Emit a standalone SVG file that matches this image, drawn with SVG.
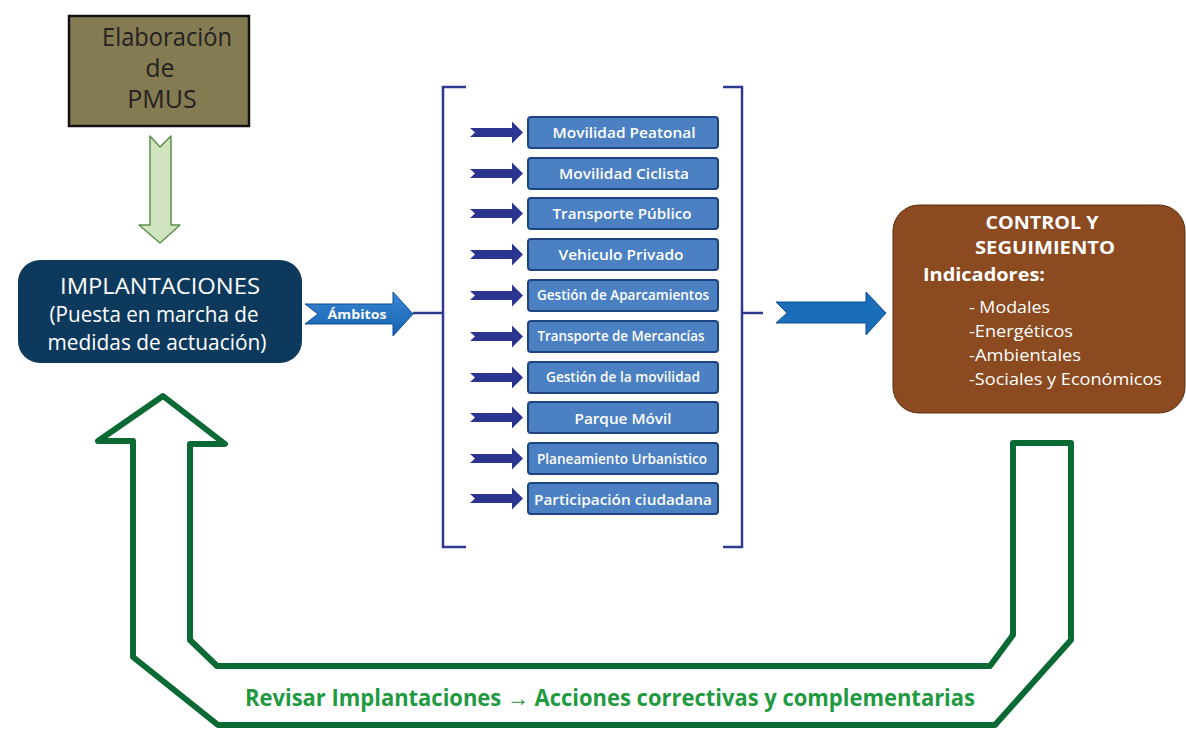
<svg xmlns="http://www.w3.org/2000/svg" width="1186" height="729" viewBox="0 0 1186 729">
<style>
.t{font-family:"Open Sans","Liberation Sans",sans-serif}
.item rect{fill:#4b80c3;stroke:#1f4482;stroke-width:2}
.item text{fill:#fff;font-size:15px;font-weight:600;text-anchor:middle;font-family:"Open Sans","Liberation Sans",sans-serif}
.sa{fill:#2b3590}
.br{fill:none;stroke:#2f3a8e;stroke-width:2.5}
.wt{fill:#fff}
</style>
<defs>
<linearGradient id="bg" x1="0" y1="0" x2="0" y2="1">
<stop offset="0" stop-color="#3b8ad6"/><stop offset="1" stop-color="#135fae"/>
</linearGradient>
<path id="smarr" d="M0,-4.5 L42,-4.5 L42,-11 L53,0 L42,11 L42,4.5 L0,4.5 L5,0 Z"/>
</defs>
<rect width="1186" height="729" fill="#fff"/>

<g id="pmus">
<rect x="69" y="16" width="180" height="110" fill="#857b52" stroke="#111" stroke-width="2.5"/>
<g class="t" font-size="25" fill="#222" text-anchor="middle">
<text x="167" y="46" textLength="130" lengthAdjust="spacingAndGlyphs">Elaboración</text>
<text x="160" y="77">de</text>
<text x="162" y="108">PMUS</text>
</g>
</g>

<g id="implantaciones">
<rect x="18" y="260" width="284" height="103" rx="22" fill="#0d3a5c"/>
<g class="t wt" text-anchor="middle" font-size="21" font-weight="500">
<text x="160" y="294" textLength="200" lengthAdjust="spacingAndGlyphs">IMPLANTACIONES</text>
<text x="154" y="322" textLength="209" lengthAdjust="spacingAndGlyphs">(Puesta en marcha de</text>
<text x="157" y="350" textLength="219" lengthAdjust="spacingAndGlyphs">medidas de actuación)</text>
</g>
</g>

<g id="control">
<rect x="893" y="205" width="292" height="208" rx="26" fill="#8b4a20" stroke="#5a2c10" stroke-width="1"/>
<g class="t wt" font-weight="bold" font-size="18">
<text x="1042" y="229" text-anchor="middle" textLength="113" lengthAdjust="spacingAndGlyphs">CONTROL Y</text>
<text x="1045" y="254" text-anchor="middle" textLength="140" lengthAdjust="spacingAndGlyphs">SEGUIMIENTO</text>
<text x="923" y="281" textLength="122" lengthAdjust="spacingAndGlyphs">Indicadores:</text>
</g>
<g class="t wt" font-size="17" font-weight="500">
<text x="969" y="313" textLength="81" lengthAdjust="spacingAndGlyphs">- Modales</text>
<text x="969" y="337" textLength="104" lengthAdjust="spacingAndGlyphs">-Energéticos</text>
<text x="969" y="361" textLength="112" lengthAdjust="spacingAndGlyphs">-Ambientales</text>
<text x="969" y="385" textLength="193" lengthAdjust="spacingAndGlyphs">-Sociales y Económicos</text>
</g>
</g>

<g id="ambitos">
<g class="item"><rect x="528" y="117" width="190" height="31" rx="3"/><text x="624" y="138" textLength="143" lengthAdjust="spacingAndGlyphs">Movilidad Peatonal</text></g>
<g class="item"><rect x="528" y="158" width="190" height="31" rx="3"/><text x="624" y="179" textLength="130" lengthAdjust="spacingAndGlyphs">Movilidad Ciclista</text></g>
<g class="item"><rect x="528" y="198" width="190" height="31" rx="3"/><text x="622" y="219" textLength="139" lengthAdjust="spacingAndGlyphs">Transporte Público</text></g>
<g class="item"><rect x="528" y="239" width="190" height="31" rx="3"/><text x="621" y="260" textLength="125" lengthAdjust="spacingAndGlyphs">Vehiculo Privado</text></g>
<g class="item"><rect x="528" y="280" width="190" height="31" rx="3"/><text x="623" y="300" font-size="13" textLength="172" lengthAdjust="spacingAndGlyphs">Gestión de Aparcamientos</text></g>
<g class="item"><rect x="528" y="321" width="190" height="31" rx="3"/><text x="621" y="341" font-size="13" textLength="167" lengthAdjust="spacingAndGlyphs">Transporte de Mercancías</text></g>
<g class="item"><rect x="528" y="362" width="190" height="31" rx="3"/><text x="623" y="382" font-size="13.5" textLength="154" lengthAdjust="spacingAndGlyphs">Gestión de la movilidad</text></g>
<g class="item"><rect x="528" y="402" width="190" height="31" rx="3"/><text x="623" y="424" font-size="16" textLength="97" lengthAdjust="spacingAndGlyphs">Parque Móvil</text></g>
<g class="item"><rect x="528" y="443" width="190" height="31" rx="3"/><text x="622" y="464" font-size="13.5" textLength="170" lengthAdjust="spacingAndGlyphs">Planeamiento Urbanístico</text></g>
<g class="item"><rect x="528" y="483" width="190" height="31" rx="3"/><text x="623" y="505" font-size="15.5" textLength="178" lengthAdjust="spacingAndGlyphs">Participación ciudadana</text></g>
</g>

<g id="connectors">
<path class="br" d="M466,87 L443,87 L443,547 L466,547"/>
<path class="br" d="M723,87 L742,87 L742,547 L723,547"/>
<path class="br" d="M413,313 L443,313"/>
<path class="br" d="M742,313 L763,313"/>
<use href="#smarr" class="sa" x="470" y="132.5"/>
<use href="#smarr" class="sa" x="470" y="173.5"/>
<use href="#smarr" class="sa" x="470" y="213.5"/>
<use href="#smarr" class="sa" x="470" y="254.5"/>
<use href="#smarr" class="sa" x="470" y="295.5"/>
<use href="#smarr" class="sa" x="470" y="336.5"/>
<use href="#smarr" class="sa" x="470" y="377.5"/>
<use href="#smarr" class="sa" x="470" y="417.5"/>
<use href="#smarr" class="sa" x="470" y="458.5"/>
<use href="#smarr" class="sa" x="470" y="498.5"/>
<path d="M305,304 L393,304 L393,292 L413,314 L393,336 L393,324 L305,324 L318,314 Z" fill="url(#bg)" stroke="#0f4f95" stroke-width="1"/>
<text x="357" y="319" class="t wt" font-weight="bold" font-size="12.5" text-anchor="middle" textLength="59" lengthAdjust="spacingAndGlyphs">Ámbitos</text>
<path d="M776,302 L866,302 L866,292 L886,313 L866,335 L866,323 L776,323 L787,313 Z" fill="#1a6db8" stroke="#0f4f95" stroke-width="1"/>
<path d="M150,136 L160,147 L171,136 L171,225 L180,225 L160,243 L139,225 L150,225 Z" fill="#d0e4bf" stroke="#5f8f4f" stroke-width="1.5" stroke-linejoin="round"/>
<path d="M163,396 L225,444 L190,444 L190,640 L217,666 L990,666 L1013,635 L1013,443 L1071,443 L1071,640 L995,725 L218,725 L133,657 L133,441 L98,441 Z" fill="none" stroke="#0b6a34" stroke-width="6" stroke-linejoin="round"/>
<text x="610" y="706" class="t" fill="#1f9a40" font-weight="bold" font-size="24" text-anchor="middle" textLength="730" lengthAdjust="spacingAndGlyphs">Revisar Implantaciones → Acciones correctivas y complementarias</text>
</g>
</svg>
